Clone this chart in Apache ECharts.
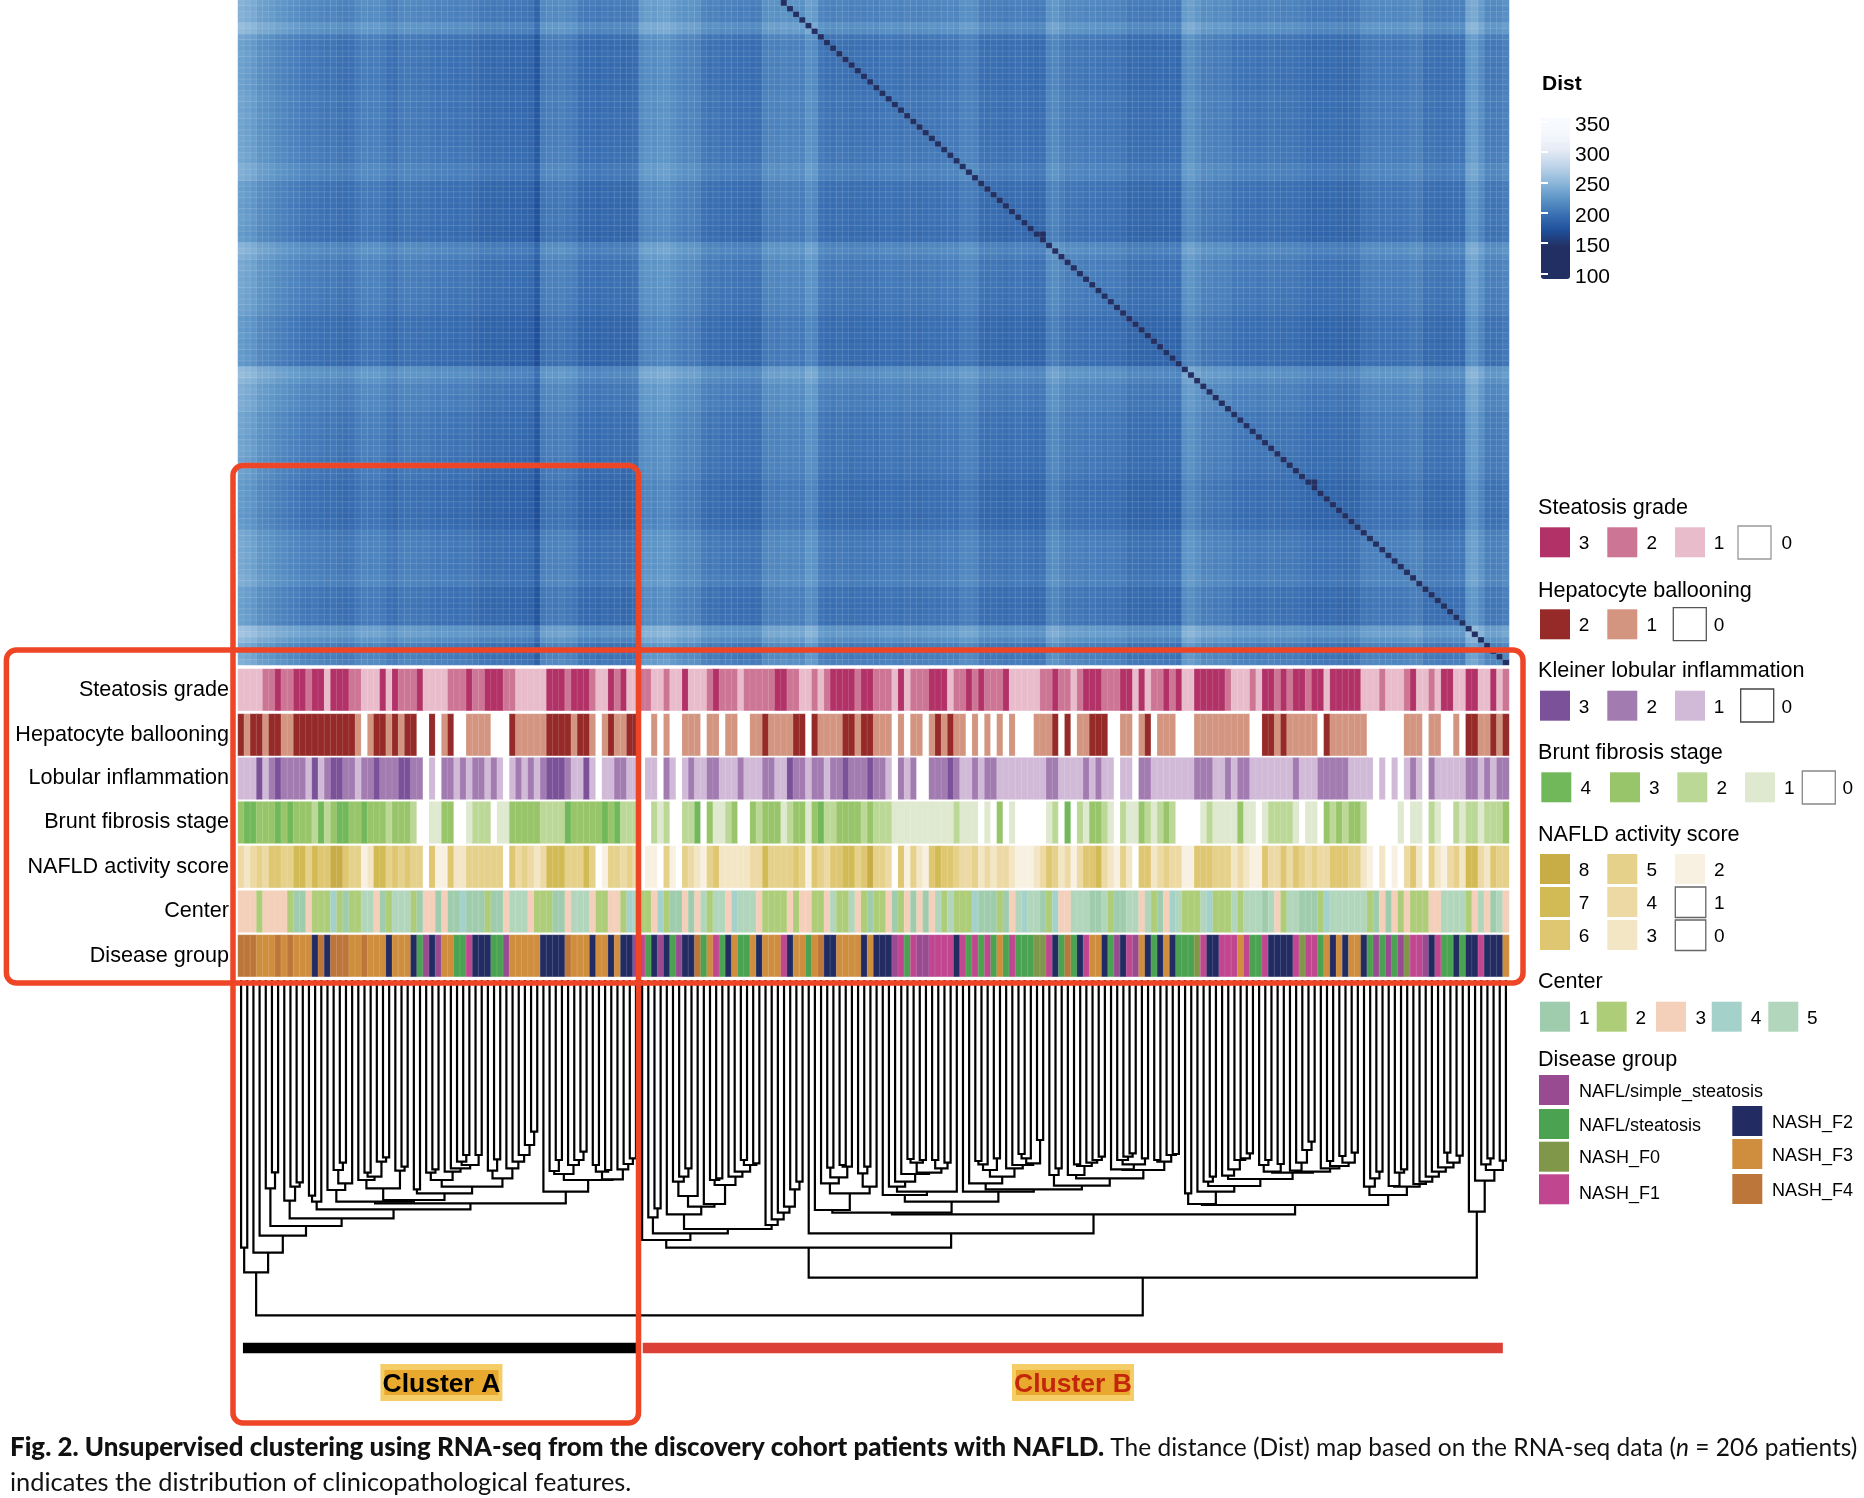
<!DOCTYPE html>
<html><head><meta charset="utf-8">
<style>html,body{margin:0;padding:0;background:#fff}#c{width:1864px;height:1498px}</style>
<script src="https://cdn.jsdelivr.net/npm/echarts@6/dist/echarts.min.js"></script>
</head><body><div id="c"></div>
<script>
// ---------- DATA ----------
// mean distance of each of the 206 patients to the others, dendrogram order
const meanDist = [
240,236,232,222,220,218,212,210,206,205,
200,198,200,196,194,196,192,190,192,200,
204,202,204,200,192,190,198,200,198,196,
198,194,192,194,192,190,192,190,188,184,
184,182,184,182,180,182,180,178,160,198,
202,200,204,200,198,186,184,186,182,186,
184,186,182,184,186,216,220,218,222,224,
218,212,208,210,208,196,192,194,190,192,
190,188,190,186,188,206,208,206,210,206,
208,206,222,218,196,192,190,194,192,190,
192,190,192,190,194,196,194,192,196,194,
192,194,196,194,196,198,196,206,206,204,
190,188,190,188,186,188,190,188,186,184,
186,210,214,206,198,200,198,196,198,196,
194,196,194,192,184,186,184,186,184,186,
184,186,182,218,222,214,204,206,202,204,
202,194,196,194,196,192,194,196,194,192,
194,192,190,186,184,186,184,186,184,182,
184,186,198,198,200,198,200,198,198,200,
204,204,190,192,190,188,190,192,190,228,
232,218,200,198,200,206];
const distSelf = 100;
const nearPairs = [[129,130],[173,174]];
const distTicks = [100,150,200,250,300,350];

const steatosis = [
1,1,1,1,2,2,3,2,2,3, 3,2,3,3,1,3,3,3,2,2, 1,1,1,3,1,3,2,2,2,3, 1,1,1,1,2,2,2,3,2,2, 3,3,3,2,2,1,1,1,1,1,
3,3,3,2,3,3,3,2,1,1, 3,2,3,1,1,2,2,1,1,2, 1,1,3,1,1,1,2,3,2,2, 2,1,2,2,2,2,2,3,3,2, 2,1,1,2,1,2,3,3,3,3,
2,3,3,2,2,2,1,3,1,2, 2,2,3,3,3,1,2,2,3,2, 3,2,2,2,3,1,1,1,1,1, 2,2,3,2,2,1,2,3,3,3, 2,2,2,3,3,1,3,1,2,2,
3,2,3,1,1,3,3,3,3,3, 2,1,1,1,2,1,3,3,2,3, 2,3,3,2,3,3,1,3,3,3, 3,3,1,1,1,2,1,1,1,2, 3,1,1,2,1,3,3,1,1,3, 3,1,1,3,1,2];
const ballooning = [
2,1,2,2,1,2,2,1,1,2, 2,2,2,2,2,2,2,2,2,1, 0,1,2,2,1,2,1,2,2,0, 0,2,0,1,2,0,0,1,1,1, 1,0,0,0,2,1,1,1,1,1,
2,2,2,2,1,2,2,1,0,1, 2,1,1,2,2,0,0,1,0,1, 0,0,1,1,1,0,1,1,0,1, 1,0,0,1,1,2,1,1,1,1, 2,2,0,2,1,1,1,1,2,2,
1,2,2,1,1,1,0,1,0,1, 1,0,1,2,1,2,1,1,0,1, 0,1,0,1,0,1,0,0,0,1, 1,1,2,0,2,0,1,1,2,2, 2,0,0,1,1,0,1,2,0,1,
1,1,0,0,0,1,1,1,1,1, 1,1,1,1,0,0,2,2,1,2, 1,1,1,1,1,0,2,1,1,1, 1,1,1,0,0,0,0,0,0,1, 1,1,0,1,1,0,0,1,0,2, 2,1,1,2,1,2];
const lobular = [
1,1,1,3,1,2,3,2,2,2, 2,1,3,1,2,3,3,2,2,1, 2,2,3,2,2,2,3,3,2,2, 0,1,0,2,2,1,2,1,2,2, 1,2,1,0,1,2,1,2,1,2,
3,3,3,2,1,1,3,1,0,1, 1,2,2,1,1,0,1,1,0,2, 1,0,1,2,1,1,2,2,1,1, 1,2,1,1,1,2,2,1,1,3, 2,2,1,2,2,1,2,2,3,2,
2,2,3,2,2,1,0,2,1,2, 0,0,2,2,2,3,2,1,1,2, 1,2,2,1,1,1,1,1,1,1, 1,2,2,1,1,1,1,2,1,2, 1,1,0,1,1,0,2,2,1,1,
1,1,1,1,1,2,2,2,1,1, 2,1,2,2,1,1,1,1,1,1, 1,2,1,1,1,2,2,2,2,2, 1,1,1,1,0,1,0,1,0,1, 2,1,0,2,1,1,1,1,1,2, 2,1,2,1,2,2];
const fibrosis = [
3,4,4,3,3,3,4,3,4,3, 3,3,2,4,2,3,4,4,3,3, 4,3,3,3,2,3,3,3,2,0, 0,1,1,3,3,0,0,1,2,2, 2,0,1,1,3,3,3,3,3,2,
2,2,2,4,3,3,3,3,3,4, 3,4,2,2,2,0,0,2,1,2, 0,0,2,2,4,0,3,1,1,2, 3,0,0,3,2,3,3,3,1,2, 3,3,1,3,4,2,2,3,3,3,
3,2,3,2,2,2,1,1,1,1, 1,1,1,1,1,1,2,1,1,1, 0,1,0,3,0,1,0,0,0,0, 0,1,2,0,4,0,2,1,3,3, 2,1,0,2,1,1,3,2,1,2,
3,2,0,0,0,0,1,2,1,1, 1,1,3,1,1,0,1,2,2,2, 2,1,0,1,1,0,3,2,3,2, 3,3,2,0,0,0,0,0,1,0, 1,1,0,2,1,0,0,2,1,2, 2,1,2,2,2,3];
const activity = [
4,3,4,5,4,6,6,5,5,7, 7,5,7,6,6,8,8,6,5,5, 2,3,7,7,5,6,5,6,5,5, 0,6,2,2,6,3,3,5,5,5, 5,5,5,0,6,4,5,4,3,4,
7,7,7,5,5,5,7,5,0,2, 5,5,4,5,4,0,2,2,0,5, 2,0,5,4,3,2,5,6,3,3, 3,3,3,4,4,7,5,5,5,5, 6,5,2,6,5,4,6,6,7,7,
5,6,8,5,5,4,0,6,2,5, 3,2,6,7,6,6,5,4,4,5, 3,4,3,4,4,3,2,2,2,3, 4,6,5,3,4,2,4,6,6,7, 4,3,2,5,3,0,6,6,3,4,
5,4,4,2,2,6,6,6,5,5, 5,3,4,3,2,2,6,4,4,6, 4,6,5,4,5,4,4,6,6,6, 5,5,3,2,0,3,0,2,0,4, 6,3,0,5,3,2,4,5,3,7, 7,4,3,6,5,5];
const center = [
3,3,3,2,3,3,3,3,2,1, 1,3,2,2,2,4,2,1,2,2, 5,5,3,1,2,5,5,5,2,1, 3,3,1,3,1,1,4,1,1,1, 2,1,1,3,5,5,5,3,2,2,
2,1,1,3,5,5,5,3,2,2, 3,3,2,4,5,2,2,3,4,2, 1,1,3,1,3,5,2,5,5,3, 4,5,5,5,3,2,2,2,2,3, 2,3,3,2,2,3,5,2,2,5,
3,2,1,2,2,3,1,2,3,1, 3,1,3,5,2,5,2,2,2,4, 1,1,1,2,1,3,5,4,5,5, 1,2,4,3,3,5,5,5,1,1, 5,2,1,1,5,5,3,5,2,1,
3,4,5,2,2,2,5,4,2,2, 2,5,2,5,5,5,1,5,3,2, 5,5,1,1,1,2,4,5,5,5, 5,5,5,2,1,3,1,3,2,3, 2,2,2,3,3,5,5,5,5,2, 3,5,3,1,5,3];
// index into diseaseNames
const disease = [
6,6,6,5,5,5,6,5,6,5, 5,5,4,6,4,6,6,6,5,5, 6,5,5,5,4,5,5,5,4,1, 0,4,0,5,5,1,1,3,4,4, 4,1,1,0,5,5,5,5,5,4,
4,4,4,6,5,5,5,4,5,5, 4,5,4,4,0,3,1,4,0,4, 1,0,4,4,6,1,5,3,1,4, 5,1,1,5,4,5,5,5,3,4, 5,5,1,5,6,4,4,5,5,5,
5,4,5,4,4,4,0,3,1,3, 0,0,3,3,3,3,4,3,1,3, 1,3,1,5,1,3,1,1,1,2, 2,3,4,1,6,1,4,3,5,5, 4,1,0,4,3,0,5,4,1,4,
5,4,1,1,1,2,3,4,4,3, 3,3,5,3,1,1,3,4,4,4, 4,3,2,3,3,1,5,4,5,4, 5,5,4,1,0,1,0,1,0,2, 3,3,0,4,3,1,1,4,1,4, 4,3,4,4,4,5];
const diseaseNames = ['NAFL/simple_steatosis','NAFL/steatosis','NASH_F0','NASH_F1','NASH_F2','NASH_F3','NASH_F4'];
const trackNames = ['Steatosis grade','Hepatocyte ballooning','Lobular inflammation','Brunt fibrosis stage','NAFLD activity score','Center','Disease group'];
const clusterNames = ['Cluster A','Cluster B'];
const clusterSpans = [[0.8,64.5],[65.6,205]];

// dendrogram: [merge height, left, right]; a plain number is a patient (column) index
const branchX = [665,[630,14,[610,[570,15,[548,16,17]],18]],[660,[625,[600,19,[590,[578,20,21],[545,22,[532,23,24]]]],[572,25,[560,26,27]]],[640,[628,28,29],[620,[600,[578,30,[568,31,32]],[575,33,[565,34,[555,[545,35,[525,36,37]],[525,38,39]]]]],[595,[572,40,[538,41,42]],[565,43,[545,44,[525,45,[495,46,[455,47,48]]]]]]]]]];
const branchZ = [635,49,[600,[582,[573,50,[540,51,52]],[555,53,[540,54,[515,55,56]]]],[598,[575,[555,57,58],[570,59,60]],[568,61,[552,62,[535,63,64]]]]]];
const clusterA = [877,[803,0,1],[818,2,[767,3,[738,[625,4,[577,5,6]],[715,[662,7,[620,8,[607,9,10]]],[688,[665,[647,11,12],13],[670,branchX,branchZ]]]]]]];
const b1Left = [780,65,[760,[712,66,[685,67,68]],[747,[703,69,[680,[648,[605,70,[590,71,[565,72,73]]],74],[672,75,[615,[600,76,[595,77,78]],[590,79,[575,80,[555,[540,81,82],[550,83,84]]]]]]]],[735,85,[718,86,[698,87,[680,88,[628,89,[605,90,91]]]]]]]]];
const n690 = [690,93,[640,[610,94,[592,[563,95,96],[560,[555,97,98],99]]],[620,[580,100,[560,101,102]],103]]];
const n645 = [645,104,[635,[620,105,[605,106,[582,107,[578,[548,[537,108,109],[540,110,111]],[565,[540,112,113],[548,114,115]]]]]],116]];
const n610 = [610,118,[590,[570,[553,[543,119,120],121],[535,122,123]],[565,124,[555,125,[550,[535,[522,126,127],128],[480,129,130]]]]]];
const n595 = [595,[585,134,[558,[553,135,136],[548,137,[540,138,[530,139,140]]]]],[570,[568,141,[553,[540,142,[530,143,[520,144,145]]],[535,146,147]]],[545,[540,148,149],[525,150,[522,151,152]]]]];
const n635 = [635,117,[628,n610,[617,[585,131,[565,132,133]],n595]]];
const n698 = [698,n690,[665,n645,n635]];
const k1 = [672,[640,153,154],[635,155,[618,[605,156,[590,157,158]],[597,[587,159,[568,160,[540,161,[535,162,[520,163,164]]]]],[578,[575,[555,165,[540,166,167]],[552,168,169]],[575,[572,170,[548,171,[510,172,[485,173,174]]]],[565,175,[558,[543,176,177],[548,[528,178,179],[518,180,181]]]]]]]]]];
const k2 = [645,[620,182,[595,183,[575,184,185]]],[620,[618,186,[578,187,[568,188,189]]],[612,190,[605,191,[590,192,[575,193,[562,194,[548,[518,195,196],[527,197,198]]]]]]]]];
const b1 = [803,b1Left,[760,92,[703,n698,[675,k1,k2]]]];
const tail = [695,199,[602,200,[570,[553,201,[535,202,203]],[542,204,205]]]];
const rootTree = [1006,clusterA,[893,b1,tail]];

// ---------- COLOURS ----------
const cSteat={3:'#b23166',2:'#cd7594',1:'#e9bccb',0:'#ffffff'};
const cBall={2:'#952a28',1:'#d39580',0:'#ffffff'};
const cLob={3:'#7b5299',2:'#a27bb0',1:'#d1bad8',0:'#ffffff'};
const cFib={4:'#71b85b',3:'#98c569',2:'#bcd896',1:'#dee9cf',0:'#ffffff'};
const cAct={8:'#c8ad47',7:'#d2bb55',6:'#dfc671',5:'#e5d18a',4:'#edd9a3',3:'#f3e6c5',2:'#f8f1e2',1:'#ffffff',0:'#ffffff'};
const cCen={1:'#a0ccae',2:'#aecd78',3:'#f4cfba',4:'#a4d2cb',5:'#b1d6bc'};
const cDis={0:'#994b92',1:'#4ba352',2:'#80974a',3:'#c04690',4:'#222c62',5:'#cf8e3e',6:'#bd763a'};
const distColors=['#222f62','#222f62','#222f62','#1f4f9a','#3a70b3','#5d95c7','#8eb8da','#bed3e9','#e5ebf5','#f5f8fd','#f8fbff'];

// ---------- LAYOUT ----------
const HM_L=238,HM_W=1271,HM_BOTTOM=665,ROW_H=5.73,ROWS=118;
const FONT='"Liberation Sans",Arial,sans-serif';
const trackTops=[669,714,757.7,801.7,846,890.7,935],trackH=41.6;
const trackData=[steatosis,ballooning,lobular,fibrosis,activity,center,disease];
const trackCols=[cSteat,cBall,cLob,cFib,cAct,cCen,cDis];
const colIdx=meanDist.map((_,i)=>i);

const grids=[],xAxes=[],yAxes=[],series=[],visualMaps=[];
// main distance map: patient profile on both axes around the cohort mean
const grand=195, mapBase=203, mapGain=0.72, hmData=[];
const nearKey=new Set(nearPairs.map(p=>p[0]+'_'+p[1]));
for(let r=0;r<ROWS;r++){
  const c2=205-r; // row r (counted from the bottom) is patient 205-r
  for(let c=0;c<206;c++){
    let v=mapBase+mapGain*(meanDist[c]-grand)+mapGain*(meanDist[c2]-grand);
    if(c===c2) v=distSelf;
    if(nearKey.has(c2+'_'+c)) v=distSelf+45;
    hmData.push([c,r,v]);
  }
}
grids.push({left:HM_L,width:HM_W,top:HM_BOTTOM-ROWS*ROW_H,height:ROWS*ROW_H});
xAxes.push({type:'category',gridIndex:0,data:colIdx,show:false});
yAxes.push({type:'category',gridIndex:0,data:Array.from({length:ROWS},(_,i)=>i),show:false});
series.push({type:'heatmap',xAxisIndex:0,yAxisIndex:0,data:hmData,progressive:0,silent:true,
  itemStyle:{borderColor:'rgba(255,255,255,0.2)',borderWidth:0.5}});
visualMaps.push({type:'continuous',min:91,max:356,seriesIndex:0,dimension:2,left:1541,top:118,itemWidth:29,itemHeight:161,padding:0,
  calculable:false,show:true,text:null,showLabel:false,hoverLink:false,inRange:{color:distColors}});

// annotation tracks
trackData.forEach((arr,i)=>{
  const g=grids.length;
  grids.push({left:HM_L,width:HM_W,top:trackTops[i],height:trackH});
  xAxes.push({type:'category',gridIndex:g,data:colIdx,show:false});
  yAxes.push({type:'category',gridIndex:g,data:[trackNames[i]],axisLine:{show:false},axisTick:{show:false},
    axisLabel:{fontFamily:FONT,fontSize:21.6,color:'#000',margin:9}});
  const si=series.length;
  series.push({type:'heatmap',xAxisIndex:g,yAxisIndex:g,data:arr.map((v,c)=>[c,0,v]),progressive:0,silent:true,
    itemStyle:{borderColor:'rgba(255,255,255,0.22)',borderWidth:0.6}});
  visualMaps.push({type:'piecewise',show:false,seriesIndex:si,dimension:2,
    pieces:Object.keys(trackCols[i]).map(k=>({value:+k,color:trackCols[i][k]}))});
});

// dendrogram
const segs=[];
function walk(n){
  if(typeof n==='number') return {x:n+0.5,h:0};
  const a=walk(n[1]),b=walk(n[2]);
  segs.push([a.x,a.h,b.x,b.h,n[0]]);
  return {x:(a.x+b.x)/2,h:n[0]};
}
walk(rootTree);
const dg=grids.length;
grids.push({left:HM_L,width:HM_W,top:980,height:380});
xAxes.push({type:'value',gridIndex:dg,min:0,max:206,show:false});
yAxes.push({type:'value',gridIndex:dg,min:0,max:1140,inverse:true,show:false});
series.push({type:'custom',xAxisIndex:dg,yAxisIndex:dg,data:segs,silent:true,clip:false,
  encode:{x:[0,2],y:[1,3,4]},
  renderItem:(p,api)=>{
    const xa=api.value(0),ha=api.value(1),xb=api.value(2),hb=api.value(3),h=api.value(4);
    return {type:'polyline',shape:{points:[api.coord([xa,ha]),api.coord([xa,h]),api.coord([xb,h]),api.coord([xb,hb])]},
      style:{stroke:'#000',fill:null,lineWidth:2.2}};
  }});
// cluster bars
const clusterColors=['#000000','#db3f35'];
series.push({type:'custom',xAxisIndex:dg,yAxisIndex:dg,data:clusterSpans.map((s,i)=>[s[0],s[1],i]),silent:true,clip:false,
  encode:{x:[0,1]},
  renderItem:(p,api)=>{
    const a=api.coord([api.value(0),1088]),b=api.coord([api.value(1),1120]);
    return {type:'rect',shape:{x:a[0],y:a[1],width:b[0]-a[0],height:b[1]-a[1]},style:{fill:clusterColors[api.value(2)]}};
  }});

// colour bar axes: white ticks on both sides, labels on a grid nudged down to sit like the reference
const cg=grids.length;
grids.push({left:1541,width:29,top:118,height:161,z:10});
xAxes.push({type:'value',gridIndex:cg,show:false,min:0,max:1});
const tickAxis=(pos)=>({type:'value',gridIndex:cg,min:91,max:356,position:pos,z:10,
  axisLine:{show:false},splitLine:{show:false},axisLabel:{show:false},
  axisTick:{show:true,inside:true,length:7,lineStyle:{color:'#fff',width:2},customValues:distTicks}});
yAxes.push(tickAxis('right'));
series.push({type:'line',xAxisIndex:cg,yAxisIndex:yAxes.length-1,data:[],silent:true});
yAxes.push(tickAxis('left'));
series.push({type:'line',xAxisIndex:cg,yAxisIndex:yAxes.length-1,data:[],silent:true});
const lg=grids.length;
grids.push({left:1541,width:29,top:121.2,height:161});
xAxes.push({type:'value',gridIndex:lg,show:false,min:0,max:1});
yAxes.push({type:'value',gridIndex:lg,min:91,max:356,position:'right',
  axisLine:{show:false},splitLine:{show:false},axisTick:{show:false},
  axisLabel:{customValues:distTicks,fontFamily:FONT,fontSize:21,color:'#000',margin:40,align:'right',hideOverlap:false}});
series.push({type:'line',xAxisIndex:lg,yAxisIndex:yAxes.length-1,data:[],silent:true});

// ---------- GRAPHIC ----------
const G=[];
const TY=1.3; // optical text offset
const txt=(s,x,y,size,opt={})=>G.push({type:'text',x,y:y+TY,z:50,style:{text:s,font:`${opt.bold?'bold ':''}${size}px ${FONT}`,fill:opt.fill||'#000',
  textAlign:opt.align||'left',textVerticalAlign:'middle'}});
const sw=(x,y,fill,w=30,h=30)=>G.push({type:'rect',z:50,shape:{x,y,width:w,height:h},style:{fill}});
const box=(x,y,stroke='#777',w=33,h=33)=>G.push({type:'rect',z:50,shape:{x,y,width:w,height:h},style:{fill:'#fff',stroke,lineWidth:1.3}});

txt('Dist',1542,83,21,{bold:true});
const TS=21.6,NS=19;
txt('Steatosis grade',1538,506.7,TS);
[[1540,3],[1607.3,2],[1675,1]].forEach(([x,k])=>sw(x,527.3,cSteat[k]));box(1738,526,'#999');
[[1584,3],[1651.7,2],[1719,1],[1786.7,0]].forEach(([x,k])=>txt(String(k),x,542.5,NS,{align:'center'}));
txt('Hepatocyte ballooning',1538,589.3,TS);
[[1540,2],[1607.3,1]].forEach(([x,k])=>sw(x,609.3,cBall[k]));box(1673.3,607.7,'#555');
[[1584,2],[1651.7,1],[1719,0]].forEach(([x,k])=>txt(String(k),x,624.5,NS,{align:'center'}));
txt('Kleiner lobular inflammation',1538,670,TS);
[[1540,3],[1607.3,2],[1675,1]].forEach(([x,k])=>sw(x,690.7,cLob[k]));box(1740.7,689,'#444');
[[1584,3],[1651.7,2],[1719,1],[1786.7,0]].forEach(([x,k])=>txt(String(k),x,706.7,NS,{align:'center'}));
txt('Brunt fibrosis stage',1538,751.7,TS);
[[1541.3,4],[1610,3],[1677.3,2],[1745,1]].forEach(([x,k])=>sw(x,772.3,cFib[k]));box(1802.3,771,'#888');
[[1585.7,4],[1654.3,3],[1721.7,2],[1789.3,1],[1847.7,0]].forEach(([x,k])=>txt(String(k),x,787.5,NS,{align:'center'}));
txt('NAFLD activity score',1538,834,TS);
[[1540,854,8],[1540,887,7],[1540,920,6],[1607.3,854,5],[1607.3,887,4],[1607.3,920,3],[1675,854,2]].forEach(([x,y,k])=>sw(x,y,cAct[k]));
box(1675.3,887,'#666',30.5,30.5);box(1675.3,920,'#666',30.5,30.5);
[[1584,869.3,8],[1584,902.7,7],[1584,935.7,6],[1651.7,869.3,5],[1651.7,902.7,4],[1651.7,935.7,3],[1719.3,869.3,2],[1719.3,902.7,1],[1719.3,935.7,0]]
  .forEach(([x,y,k])=>txt(String(k),x,y,NS,{align:'center'}));
txt('Center',1538,980.7,TS);
[[1540,1],[1596.7,2],[1656,3],[1711.7,4],[1768.3,5]].forEach(([x,k])=>sw(x,1001.7,cCen[k]));
[[1584.3,1],[1640.7,2],[1700.7,3],[1756,4],[1812.3,5]].forEach(([x,k])=>txt(String(k),x,1017.3,NS,{align:'center'}));
txt('Disease group',1538,1058.3,TS);
[[1539,1075,1091,0],[1539,1109,1125,1],[1539,1141.7,1156.7,2],[1539,1174.3,1192.3,3]].forEach(([x,y,ty,k])=>{sw(x,y,cDis[k]);txt(diseaseNames[k],1579,ty,18);});
[[1732.3,1106,1121.7,4],[1732.3,1139,1154.3,5],[1732.3,1174,1189.3,6]].forEach(([x,y,ty,k])=>{sw(x,y,cDis[k]);txt(diseaseNames[k],1772,ty,18);});

// cluster labels
[[380.4,clusterNames[0],'#000'],[1012,clusterNames[1],'#c4260c']].forEach(([x,s,col])=>{
  sw(x,1364,'#f4cd67',122,37);
  sw(x+4,1370,'#e8a92e',114,25);
  txt(s,x+61,1383,26.5,{bold:true,fill:col,align:'center'});
});
// highlight frames
const frame=(x,y,w,h)=>G.push({type:'rect',z:60,shape:{x,y,width:w,height:h,r:10},style:{fill:'none',stroke:'#ee4527',lineWidth:5.5}});
frame(233,465.5,405.5,957.5);
frame(6.4,650,1516.6,333);
// caption
const CF='Lato,"Open Sans",sans-serif';
G.push({type:'text',x:10,y:1448,z:50,style:{textVerticalAlign:'middle',
  text:'{b|Fig. 2. Unsupervised clustering using RNA-seq from the discovery cohort patients with NAFLD.}{r| The distance (Dist) map based on the RNA-seq data (}{i|n}{r| = 206 patients)}',
  rich:{b:{font:`900 25.9px ${CF}`,fill:'#111'},r:{font:`400 24.5px ${CF}`,fill:'#111'},i:{font:`italic 400 24.5px ${CF}`,fill:'#111'}}}});
G.push({type:'text',x:10,y:1483,z:50,style:{text:'indicates the distribution of clinicopathological features.',textVerticalAlign:'middle',font:`400 25.4px ${CF}`,fill:'#111'}});

const chart=echarts.init(document.getElementById('c'),null,{renderer:'canvas',width:1864,height:1498});
chart.setOption({animation:false,backgroundColor:'#fff',grid:grids,xAxis:xAxes,yAxis:yAxes,visualMap:visualMaps,series,graphic:{elements:G}});
</script></body></html>
